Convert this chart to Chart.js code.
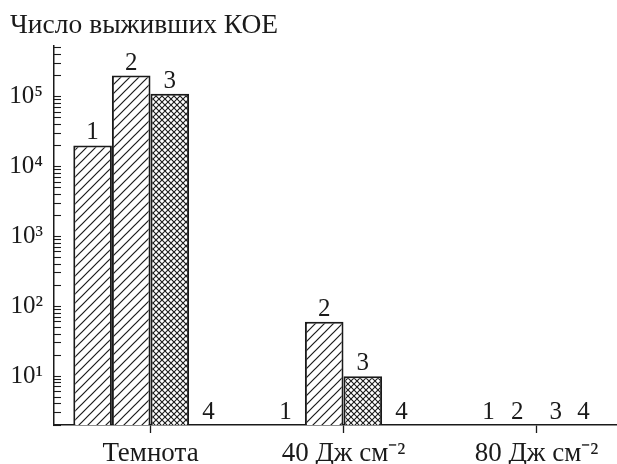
<!DOCTYPE html>
<html>
<head>
<meta charset="utf-8">
<script src="https://cdn.jsdelivr.net/npm/chart.js@4.4.1/dist/chart.umd.min.js"></script>
<style>
  html, body { margin: 0; padding: 0; overflow: hidden; background: #fff; }
  #wrap { width: 640px; height: 464px; }
</style>
</head>
<body>
<div id="wrap"><canvas id="c" width="640" height="464"></canvas></div>
<script>
// Surviving colony-forming units per treatment
const categories = ['Темнота', '40 Дж см⁻²', '80 Дж см⁻²'];
const seriesNames = ['1', '2', '3', '4'];
const series1 = [2e4, 0, 0];
const series2 = [2e5, 60, 0];
const series3 = [1.1e5, 10, 0];
const series4 = [0, 0, 0];
const decadeValues = [10, 100, 1000, 10000, 100000];
const decadeLabels = ['10¹', '10²', '10³', '10⁴', '10⁵'];

const INK = '#1a1a1a';
const SERIF = '"Liberation Serif", "Times New Roman", serif';

function makeHatch() {
  const s = 9;
  const c = document.createElement('canvas');
  c.width = c.height = s;
  const g = c.getContext('2d');
  g.fillStyle = '#fff';
  g.fillRect(0, 0, s, s);
  g.strokeStyle = INK;
  g.lineWidth = 1.2;
  g.beginPath();
  g.moveTo(-1, s + 1); g.lineTo(s + 1, -1);
  g.moveTo(-2, 2); g.lineTo(2, -2);
  g.moveTo(s - 2, s + 2); g.lineTo(s + 2, s - 2);
  g.stroke();
  return g.createPattern(c, 'repeat');
}

function makeCross() {
  const s = 6;
  const c = document.createElement('canvas');
  c.width = c.height = s;
  const g = c.getContext('2d');
  g.fillStyle = '#fff';
  g.fillRect(0, 0, s, s);
  g.strokeStyle = INK;
  g.lineWidth = 1.1;
  g.beginPath();
  g.moveTo(-1, s + 1); g.lineTo(s + 1, -1);
  g.moveTo(-1, -1); g.lineTo(s + 1, s + 1);
  g.stroke();
  return g.createPattern(c, 'repeat');
}

const hatch = makeHatch();
const cross = makeCross();

// Series numbers written above each bar (or on the axis for empty bars)
const barNumbers = {
  id: 'barNumbers',
  afterDatasetsDraw(chart, args, opts) {
    const ctx = chart.ctx;
    const yScale = chart.scales.y;
    ctx.save();
    ctx.font = '25px ' + SERIF;
    ctx.fillStyle = INK;
    ctx.textAlign = 'center';
    ctx.textBaseline = 'alphabetic';
    chart.data.datasets.forEach((ds, i) => {
      const meta = chart.getDatasetMeta(i);
      meta.data.forEach((el, j) => {
        const v = ds.data[j];
        const y = (v > 0 && isFinite(el.y)) ? el.y : yScale.bottom;
        const nudge = (opts.nudge[j] || [0, 0, 0, 0])[i];
        ctx.fillText(ds.label, el.x + nudge, y - 6);
      });
    });
    ctx.restore();
  }
};

function buildLogTicks(scale) {
  const ticks = [];
  for (let e = 0; e <= 5; e++) {
    for (let k = 1; k <= 9; k++) {
      const v = k * Math.pow(10, e);
      if (v >= scale.min && v <= scale.max) ticks.push({ value: v, major: k === 1 });
    }
  }
  scale.ticks = ticks;
}

new Chart(document.getElementById('c'), {
  type: 'bar',
  data: {
    labels: categories,
    datasets: [
      { label: seriesNames[0], data: series1, backgroundColor: hatch },
      { label: seriesNames[1], data: series2, backgroundColor: hatch },
      { label: seriesNames[2], data: series3, backgroundColor: cross },
      { label: seriesNames[3], data: series4, backgroundColor: cross }
    ]
  },
  options: {
    responsive: false,
    animation: false,
    devicePixelRatio: 1,
    layout: { padding: { left: 10, right: 7, top: 0, bottom: 0 } },
    datasets: {
      bar: {
        categoryPercentage: 0.8,
        barPercentage: 1.0,
        borderColor: INK,
        borderWidth: 2
      }
    },
    plugins: {
      legend: { display: false },
      tooltip: { enabled: false },
      title: {
        display: true,
        text: 'Число выживших КОЕ',
        align: 'start',
        color: INK,
        font: { family: SERIF, size: 27.5, weight: 'normal' },
        padding: { top: 9, bottom: 4 }
      },
      barNumbers: { nudge: { 2: [10, 0, 0, -11] } }
    },
    scales: {
      x: {
        type: 'category',
        offset: true,
        grid: { display: true, offset: false, drawOnChartArea: false, drawTicks: true, tickLength: 8, tickColor: INK, tickWidth: 1.3 },
        border: { display: true, color: INK, width: 1.5 },
        ticks: { color: INK, padding: 5, font: { family: SERIF, size: 27 }, maxRotation: 0 },
        afterFit(scale) { scale.height = 39; }
      },
      y: {
        type: 'logarithmic',
        min: 2,
        max: 5.3e5,
        afterBuildTicks: buildLogTicks,
        grid: {
          display: true, drawOnChartArea: false, drawTicks: true, tickLength: -7,
          tickColor: INK, tickWidth: 1.1
        },
        border: { display: true, color: INK, width: 1.5 },
        ticks: {
          autoSkip: false,
          color: INK,
          padding: 18,
          font: { family: SERIF, size: 25 },
          callback(value) {
            const idx = decadeValues.findIndex(d => Math.abs(d - value) < d * 1e-6);
            return idx >= 0 ? decadeLabels[idx] : '';
          }
        },
        afterFit(scale) { scale.width = 44; }
      }
    }
  },
  plugins: [barNumbers]
});
</script>
</body>
</html>
